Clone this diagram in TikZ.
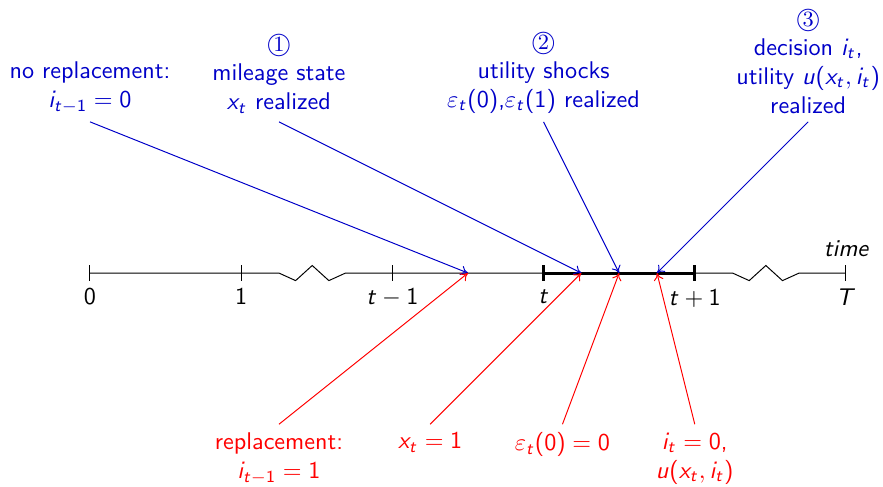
\documentclass[tikz,border=0pt]{standalone}
\usetikzlibrary{arrows.meta}
\renewcommand{\familydefault}{\sfdefault}
\DeclareSymbolFont{operators}{OT1}{cmss}{m}{n}
\DeclareSymbolFont{sfslanted}{OT1}{cmss}{m}{sl}
\DeclareMathSymbol{t}{\mathalpha}{sfslanted}{`t}
\DeclareMathSymbol{T}{\mathalpha}{sfslanted}{`T}
\DeclareMathSymbol{x}{\mathalpha}{sfslanted}{`x}
\DeclareMathSymbol{i}{\mathalpha}{sfslanted}{`i}
\DeclareMathSymbol{u}{\mathalpha}{sfslanted}{`u}
\newcommand{\eventno}[1]{\hbox{\ooalign{$\bigcirc$\cr\hfil\rmfamily\small#1\hfil\cr}}}
\definecolor{eventblue}{RGB}{0,0,200}
\tikzset{
 axisline/.style={line width=.4pt},
 nowline/.style={line width=1.2pt},
 tickmark/.style={line width=.4pt},
 nowtick/.style={line width=1.2pt},
 eventlabel/.style={text=eventblue,align=center,anchor=south},
 caselabel/.style={text=red,align=center,anchor=north},
 eventarrow/.style={draw=eventblue,-{To[length=3pt,width=4pt]}},
 casearrow/.style={draw=red,-{To[length=3pt,width=4pt]}}
}

\begin{document}
\begin{tikzpicture}[x=2.2cm,y=2.2cm]
\path[use as bounding box] (-0.595,-1.409) rectangle (5.245,1.806);
\draw[axisline] (0,0) -- (1.25,0) -- (1.36,-0.05) -- (1.47,0.05) -- (1.58,-0.05) -- (1.69,0)
 -- (4.25,0) -- (4.36,-0.05) -- (4.47,0.05) -- (4.58,-0.05) -- (4.69,0) -- (5,0);
\draw[nowline] (3,0) -- (4,0);
\foreach \x/\lbl in {0/$0$,1/$1$,2/$t-1$,5/$T$}
 \draw[tickmark] (\x,0.05) -- (\x,-0.05) node[below] (tick\x) {\lbl};
\foreach \x/\lbl in {3/$t$,4/$t+1$}
 \draw[nowtick] (\x,0.05) -- (\x,-0.05) node[below] (tick\x) {\lbl};
\node[above,font=\itshape] (timelbl) at (5,0.05) {time};
\coordinate (pA) at (2.5,0);
\coordinate (pB) at (3.25,0);
\coordinate (pC) at (3.5,0);
\coordinate (pD) at (3.75,0);
\node[eventlabel] (noreplace) at (0,1) {no replacement:\\ $i_{t-1}=0$};
\node[eventlabel] (mileage) at (1.25,1) {\eventno{1}\\ mileage state\\ $x_t$ realized};
\node[eventlabel] (shocks) at (3,1) {\eventno{2}\\ utility shocks\\ $\varepsilon_t(0)$,$\varepsilon_t(1)$ realized};
\node[eventlabel] (decision) at (4.75,1) {\eventno{3}\\ decision $i_t$,\\ utility $u(x_t,i_t)$\\ realized};
\node[caselabel] (replace) at (1.25,-1) {replacement:\\ $i_{t-1}=1$};
\node[caselabel] (xone) at (2.25,-1) {$x_t=1$};
\node[caselabel] (epszero) at (3.125,-1) {$\varepsilon_t(0)=0$};
\node[caselabel] (izero) at (4,-1) {$i_t=0$,\\ $u(x_t,i_t)$};
\draw[eventarrow] (noreplace.south) -- (pA);
\draw[eventarrow] (mileage.south) -- (pB);
\draw[eventarrow] (shocks.south) -- (pC);
\draw[eventarrow] (decision.south) -- (pD);
\draw[casearrow] (replace.north) -- (pA);
\draw[casearrow] (xone.north) -- (pB);
\draw[casearrow] (epszero.north) -- (pC);
\draw[casearrow] (izero.north) -- (pD);
\end{tikzpicture}
\end{document}
